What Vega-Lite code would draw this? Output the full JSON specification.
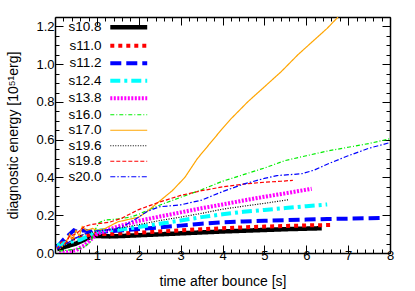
{
  "$schema": "https://vega.github.io/schema/vega-lite/v6.json",
  "width": 335,
  "height": 236,
  "autosize": "none",
  "padding": {"left": 55, "top": 17, "right": 25, "bottom": 38},
  "config": {
    "view": {"stroke": null},
    "font": "Liberation Sans",
    "axis": {"grid": false, "domainColor": "black", "domainWidth": 1.5, "tickColor": "black", "tickWidth": 1, "labelColor": "black", "titleColor": "black", "labelFontSize": 13, "titleFontSize": 14, "titleFontWeight": "normal", "labelFont": "Liberation Sans", "titleFont": "Liberation Sans"},
    "legend": {"orient": "none", "legendX": 67, "legendY": 3.5, "title": null, "symbolType": "M-4.35,0H4.35", "symbolSize": 72, "labelFontSize": 13.5, "labelFont": "Liberation Sans", "labelColor": "black", "labelAlign": "right", "labelOffset": -34, "rowPadding": 0.5, "padding": 0, "labelLimit": 0}
  },
  "data": {"values": [
    {"s": "s10.8", "t": 0.05, "e": 0.02}, {"s": "s10.8", "t": 0.2, "e": 0.03}, {"s": "s10.8", "t": 0.35, "e": 0.04}, {"s": "s10.8", "t": 0.5, "e": 0.05}, {"s": "s10.8", "t": 0.65, "e": 0.065}, {"s": "s10.8", "t": 0.8, "e": 0.08}, {"s": "s10.8", "t": 0.9, "e": 0.09}, {"s": "s10.8", "t": 1.0, "e": 0.09}, {"s": "s10.8", "t": 1.3, "e": 0.088}, {"s": "s10.8", "t": 1.6, "e": 0.09}, {"s": "s10.8", "t": 2.0, "e": 0.094}, {"s": "s10.8", "t": 2.5, "e": 0.099}, {"s": "s10.8", "t": 3.0, "e": 0.104}, {"s": "s10.8", "t": 3.5, "e": 0.109}, {"s": "s10.8", "t": 4.0, "e": 0.114}, {"s": "s10.8", "t": 4.5, "e": 0.118}, {"s": "s10.8", "t": 5.0, "e": 0.122}, {"s": "s10.8", "t": 5.5, "e": 0.126}, {"s": "s10.8", "t": 6.0, "e": 0.129}, {"s": "s10.8", "t": 6.37, "e": 0.131},
    {"s": "s11.0", "t": 0.05, "e": 0.03}, {"s": "s11.0", "t": 0.2, "e": 0.05}, {"s": "s11.0", "t": 0.35, "e": 0.07}, {"s": "s11.0", "t": 0.5, "e": 0.08}, {"s": "s11.0", "t": 0.7, "e": 0.09}, {"s": "s11.0", "t": 0.9, "e": 0.1}, {"s": "s11.0", "t": 1.2, "e": 0.1}, {"s": "s11.0", "t": 1.6, "e": 0.104}, {"s": "s11.0", "t": 2.0, "e": 0.108}, {"s": "s11.0", "t": 2.5, "e": 0.114}, {"s": "s11.0", "t": 3.0, "e": 0.12}, {"s": "s11.0", "t": 3.5, "e": 0.126}, {"s": "s11.0", "t": 4.0, "e": 0.131}, {"s": "s11.0", "t": 4.5, "e": 0.136}, {"s": "s11.0", "t": 5.0, "e": 0.14}, {"s": "s11.0", "t": 5.5, "e": 0.143}, {"s": "s11.0", "t": 6.0, "e": 0.146}, {"s": "s11.0", "t": 6.57, "e": 0.148},
    {"s": "s11.2", "t": 0.05, "e": 0.03}, {"s": "s11.2", "t": 0.2, "e": 0.07}, {"s": "s11.2", "t": 0.35, "e": 0.1}, {"s": "s11.2", "t": 0.45, "e": 0.12}, {"s": "s11.2", "t": 0.55, "e": 0.11}, {"s": "s11.2", "t": 0.65, "e": 0.12}, {"s": "s11.2", "t": 0.8, "e": 0.115}, {"s": "s11.2", "t": 1.0, "e": 0.112}, {"s": "s11.2", "t": 1.3, "e": 0.115}, {"s": "s11.2", "t": 1.6, "e": 0.12}, {"s": "s11.2", "t": 2.0, "e": 0.127}, {"s": "s11.2", "t": 2.5, "e": 0.136}, {"s": "s11.2", "t": 3.0, "e": 0.145}, {"s": "s11.2", "t": 3.5, "e": 0.155}, {"s": "s11.2", "t": 4.0, "e": 0.162}, {"s": "s11.2", "t": 4.5, "e": 0.167}, {"s": "s11.2", "t": 5.0, "e": 0.171}, {"s": "s11.2", "t": 5.5, "e": 0.174}, {"s": "s11.2", "t": 6.0, "e": 0.177}, {"s": "s11.2", "t": 6.5, "e": 0.18}, {"s": "s11.2", "t": 7.0, "e": 0.182}, {"s": "s11.2", "t": 7.5, "e": 0.184}, {"s": "s11.2", "t": 7.76, "e": 0.185},
    {"s": "s12.4", "t": 0.05, "e": 0.04}, {"s": "s12.4", "t": 0.2, "e": 0.05}, {"s": "s12.4", "t": 0.4, "e": 0.06}, {"s": "s12.4", "t": 0.6, "e": 0.07}, {"s": "s12.4", "t": 0.8, "e": 0.09}, {"s": "s12.4", "t": 0.95, "e": 0.11}, {"s": "s12.4", "t": 1.1, "e": 0.12}, {"s": "s12.4", "t": 1.4, "e": 0.12}, {"s": "s12.4", "t": 1.7, "e": 0.128}, {"s": "s12.4", "t": 2.0, "e": 0.138}, {"s": "s12.4", "t": 2.5, "e": 0.155}, {"s": "s12.4", "t": 3.0, "e": 0.172}, {"s": "s12.4", "t": 3.5, "e": 0.19}, {"s": "s12.4", "t": 4.0, "e": 0.205}, {"s": "s12.4", "t": 4.5, "e": 0.218}, {"s": "s12.4", "t": 5.0, "e": 0.228}, {"s": "s12.4", "t": 5.5, "e": 0.238}, {"s": "s12.4", "t": 6.0, "e": 0.248}, {"s": "s12.4", "t": 6.5, "e": 0.257},
    {"s": "s13.8", "t": 0.1, "e": 0.0}, {"s": "s13.8", "t": 0.3, "e": 0.005}, {"s": "s13.8", "t": 0.5, "e": 0.015}, {"s": "s13.8", "t": 0.7, "e": 0.04}, {"s": "s13.8", "t": 0.85, "e": 0.07}, {"s": "s13.8", "t": 1.0, "e": 0.1}, {"s": "s13.8", "t": 1.2, "e": 0.118}, {"s": "s13.8", "t": 1.5, "e": 0.14}, {"s": "s13.8", "t": 2.0, "e": 0.17}, {"s": "s13.8", "t": 2.5, "e": 0.193}, {"s": "s13.8", "t": 3.0, "e": 0.215}, {"s": "s13.8", "t": 3.5, "e": 0.237}, {"s": "s13.8", "t": 4.0, "e": 0.257}, {"s": "s13.8", "t": 4.5, "e": 0.278}, {"s": "s13.8", "t": 5.0, "e": 0.298}, {"s": "s13.8", "t": 5.5, "e": 0.316}, {"s": "s13.8", "t": 6.13, "e": 0.34},
    {"s": "s16.0", "t": 0.1, "e": 0.01}, {"s": "s16.0", "t": 0.3, "e": 0.015}, {"s": "s16.0", "t": 0.5, "e": 0.02}, {"s": "s16.0", "t": 0.7, "e": 0.03}, {"s": "s16.0", "t": 0.85, "e": 0.06}, {"s": "s16.0", "t": 0.95, "e": 0.12}, {"s": "s16.0", "t": 1.05, "e": 0.16}, {"s": "s16.0", "t": 1.2, "e": 0.175}, {"s": "s16.0", "t": 1.5, "e": 0.18}, {"s": "s16.0", "t": 1.8, "e": 0.19}, {"s": "s16.0", "t": 2.0, "e": 0.205}, {"s": "s16.0", "t": 2.3, "e": 0.235}, {"s": "s16.0", "t": 2.6, "e": 0.262}, {"s": "s16.0", "t": 3.0, "e": 0.295}, {"s": "s16.0", "t": 3.5, "e": 0.335}, {"s": "s16.0", "t": 4.0, "e": 0.38}, {"s": "s16.0", "t": 4.5, "e": 0.415}, {"s": "s16.0", "t": 5.0, "e": 0.45}, {"s": "s16.0", "t": 5.5, "e": 0.49}, {"s": "s16.0", "t": 6.0, "e": 0.515}, {"s": "s16.0", "t": 6.5, "e": 0.54}, {"s": "s16.0", "t": 7.0, "e": 0.56}, {"s": "s16.0", "t": 7.5, "e": 0.58}, {"s": "s16.0", "t": 8.0, "e": 0.605},
    {"s": "s17.0", "t": 0.1, "e": 0.02}, {"s": "s17.0", "t": 0.25, "e": 0.05}, {"s": "s17.0", "t": 0.35, "e": 0.1}, {"s": "s17.0", "t": 0.42, "e": 0.07}, {"s": "s17.0", "t": 0.5, "e": 0.12}, {"s": "s17.0", "t": 0.58, "e": 0.09}, {"s": "s17.0", "t": 0.65, "e": 0.14}, {"s": "s17.0", "t": 0.75, "e": 0.12}, {"s": "s17.0", "t": 0.9, "e": 0.13}, {"s": "s17.0", "t": 1.0, "e": 0.12}, {"s": "s17.0", "t": 1.2, "e": 0.13}, {"s": "s17.0", "t": 1.5, "e": 0.165}, {"s": "s17.0", "t": 1.8, "e": 0.18}, {"s": "s17.0", "t": 2.0, "e": 0.19}, {"s": "s17.0", "t": 2.2, "e": 0.22}, {"s": "s17.0", "t": 2.5, "e": 0.275}, {"s": "s17.0", "t": 2.8, "e": 0.33}, {"s": "s17.0", "t": 3.1, "e": 0.4}, {"s": "s17.0", "t": 3.4, "e": 0.5}, {"s": "s17.0", "t": 3.7, "e": 0.58}, {"s": "s17.0", "t": 4.0, "e": 0.66}, {"s": "s17.0", "t": 4.2, "e": 0.71}, {"s": "s17.0", "t": 4.6, "e": 0.8}, {"s": "s17.0", "t": 5.0, "e": 0.88}, {"s": "s17.0", "t": 5.4, "e": 0.96}, {"s": "s17.0", "t": 5.8, "e": 1.05}, {"s": "s17.0", "t": 6.2, "e": 1.13}, {"s": "s17.0", "t": 6.5, "e": 1.19}, {"s": "s17.0", "t": 6.76, "e": 1.25},
    {"s": "s19.6", "t": 0.1, "e": 0.02}, {"s": "s19.6", "t": 0.3, "e": 0.05}, {"s": "s19.6", "t": 0.5, "e": 0.08}, {"s": "s19.6", "t": 0.7, "e": 0.1}, {"s": "s19.6", "t": 0.9, "e": 0.11}, {"s": "s19.6", "t": 1.0, "e": 0.115}, {"s": "s19.6", "t": 1.5, "e": 0.13}, {"s": "s19.6", "t": 2.0, "e": 0.15}, {"s": "s19.6", "t": 2.5, "e": 0.172}, {"s": "s19.6", "t": 3.0, "e": 0.19}, {"s": "s19.6", "t": 3.5, "e": 0.21}, {"s": "s19.6", "t": 4.0, "e": 0.232}, {"s": "s19.6", "t": 4.5, "e": 0.248}, {"s": "s19.6", "t": 5.0, "e": 0.263}, {"s": "s19.6", "t": 5.57, "e": 0.282},
    {"s": "s19.8", "t": 0.05, "e": 0.02}, {"s": "s19.8", "t": 0.15, "e": 0.06}, {"s": "s19.8", "t": 0.25, "e": 0.05}, {"s": "s19.8", "t": 0.35, "e": 0.09}, {"s": "s19.8", "t": 0.5, "e": 0.1}, {"s": "s19.8", "t": 0.7, "e": 0.14}, {"s": "s19.8", "t": 0.85, "e": 0.15}, {"s": "s19.8", "t": 1.0, "e": 0.155}, {"s": "s19.8", "t": 1.3, "e": 0.163}, {"s": "s19.8", "t": 1.6, "e": 0.185}, {"s": "s19.8", "t": 2.0, "e": 0.23}, {"s": "s19.8", "t": 2.5, "e": 0.27}, {"s": "s19.8", "t": 3.0, "e": 0.305}, {"s": "s19.8", "t": 3.5, "e": 0.33}, {"s": "s19.8", "t": 4.0, "e": 0.35}, {"s": "s19.8", "t": 4.5, "e": 0.365}, {"s": "s19.8", "t": 5.0, "e": 0.375}, {"s": "s19.8", "t": 5.4, "e": 0.38}, {"s": "s19.8", "t": 5.68, "e": 0.385},
    {"s": "s20.0", "t": 0.05, "e": 0.02}, {"s": "s20.0", "t": 0.2, "e": 0.04}, {"s": "s20.0", "t": 0.35, "e": 0.06}, {"s": "s20.0", "t": 0.5, "e": 0.08}, {"s": "s20.0", "t": 0.7, "e": 0.1}, {"s": "s20.0", "t": 0.9, "e": 0.115}, {"s": "s20.0", "t": 1.1, "e": 0.12}, {"s": "s20.0", "t": 1.4, "e": 0.125}, {"s": "s20.0", "t": 1.7, "e": 0.15}, {"s": "s20.0", "t": 2.0, "e": 0.19}, {"s": "s20.0", "t": 2.2, "e": 0.22}, {"s": "s20.0", "t": 2.5, "e": 0.245}, {"s": "s20.0", "t": 3.0, "e": 0.255}, {"s": "s20.0", "t": 3.5, "e": 0.28}, {"s": "s20.0", "t": 4.0, "e": 0.325}, {"s": "s20.0", "t": 4.5, "e": 0.365}, {"s": "s20.0", "t": 5.0, "e": 0.395}, {"s": "s20.0", "t": 5.3, "e": 0.41}, {"s": "s20.0", "t": 5.6, "e": 0.415}, {"s": "s20.0", "t": 5.9, "e": 0.42}, {"s": "s20.0", "t": 6.2, "e": 0.44}, {"s": "s20.0", "t": 6.5, "e": 0.47}, {"s": "s20.0", "t": 7.0, "e": 0.515}, {"s": "s20.0", "t": 7.5, "e": 0.555}, {"s": "s20.0", "t": 8.0, "e": 0.585}
  ]},
  "layer": [
    {
      "mark": {"type": "line", "clip": true, "strokeCap": "butt"},
      "encoding": {
        "x": {"field": "t", "type": "quantitative", "scale": {"domain": [0, 8], "nice": false, "zero": false},
          "axis": {"orient": "bottom", "values": [0.2,0.4,0.6,0.8,1,1.2,1.4,1.6,1.8,2,2.2,2.4,2.6,2.8,3,3.2,3.4,3.6,3.8,4,4.2,4.4,4.6,4.8,5,5.2,5.4,5.6,5.8,6,6.2,6.4,6.6,6.8,7,7.2,7.4,7.6,7.8,8],
            "labelExpr": "abs(datum.value - round(datum.value)) < 0.001 ? format(datum.value, 'd') : ''",
            "tickSize": {"condition": {"test": "abs(datum.value - round(datum.value)) < 0.001", "value": -8}, "value": -4},
            "labelPadding": 4, "labelFlush": false, "title": "time after bounce [s]", "titleX": 167.5, "titleY": 28, "titleBaseline": "middle"}},
        "y": {"field": "e", "type": "quantitative", "scale": {"domain": [0, 1.25], "nice": false},
          "axis": {"orient": "left", "values": [0,0.05,0.1,0.15,0.2,0.25,0.3,0.35,0.4,0.45,0.5,0.55,0.6,0.65,0.7,0.75,0.8,0.85,0.9,0.95,1,1.05,1.1,1.15,1.2,1.25],
            "labelExpr": "abs(datum.value*5 - round(datum.value*5)) < 0.001 ? format(datum.value, '.1f') : ''",
            "tickSize": {"condition": {"test": "abs(datum.value*5 - round(datum.value*5)) < 0.001", "value": -8}, "value": -4},
            "labelPadding": 9, "labelFlush": false, "title": "diagnostic energy [10⁵¹erg]", "titleX": -42, "titleY": 118, "titleBaseline": "middle", "titleAngle": -90}},
        "color": {"field": "s", "type": "nominal",
          "scale": {"domain": ["s10.8","s11.0","s11.2","s12.4","s13.8","s16.0","s17.0","s19.6","s19.8","s20.0"],
            "range": ["#000000","#ff0000","#0000ff","#00ffff","#ff00ff","#00ee00","#ffa500","#000000","#ff0000","#0000ff"]}},
        "strokeDash": {"field": "s", "type": "nominal",
          "scale": {"domain": ["s10.8","s11.0","s11.2","s12.4","s13.8","s16.0","s17.0","s19.6","s19.8","s20.0"],
            "range": [[1,0],[4,4],[11,5],[10,4,3,4],[2,1.5],[4,2,1,2],[1,0],[1,1.5],[4,2],[5,2,1.5,2]]}},
        "strokeWidth": {"field": "s", "type": "nominal",
          "scale": {"type": "ordinal", "domain": ["s10.8","s11.0","s11.2","s12.4","s13.8","s16.0","s17.0","s19.6","s19.8","s20.0"],
            "range": [4.5,4,4,4,4,1.2,1.2,1.2,1.2,1.2]}}
      }
    },
    {
      "mark": {"type": "point", "opacity": 0},
      "encoding": {
        "x": {"field": "t", "type": "quantitative",
          "axis": {"orient": "top", "values": [0.2,0.4,0.6,0.8,1,1.2,1.4,1.6,1.8,2,2.2,2.4,2.6,2.8,3,3.2,3.4,3.6,3.8,4,4.2,4.4,4.6,4.8,5,5.2,5.4,5.6,5.8,6,6.2,6.4,6.6,6.8,7,7.2,7.4,7.6,7.8,8],
            "labels": false, "title": null,
            "tickSize": {"condition": {"test": "abs(datum.value - round(datum.value)) < 0.001", "value": -8}, "value": -4}}},
        "y": {"field": "e", "type": "quantitative",
          "axis": {"orient": "right", "values": [0,0.05,0.1,0.15,0.2,0.25,0.3,0.35,0.4,0.45,0.5,0.55,0.6,0.65,0.7,0.75,0.8,0.85,0.9,0.95,1,1.05,1.1,1.15,1.2,1.25],
            "labels": false, "title": null,
            "tickSize": {"condition": {"test": "abs(datum.value*5 - round(datum.value*5)) < 0.001", "value": -8}, "value": -4}}}
      }
    }
  ],
  "resolve": {"axis": {"x": "independent", "y": "independent"}}
}
